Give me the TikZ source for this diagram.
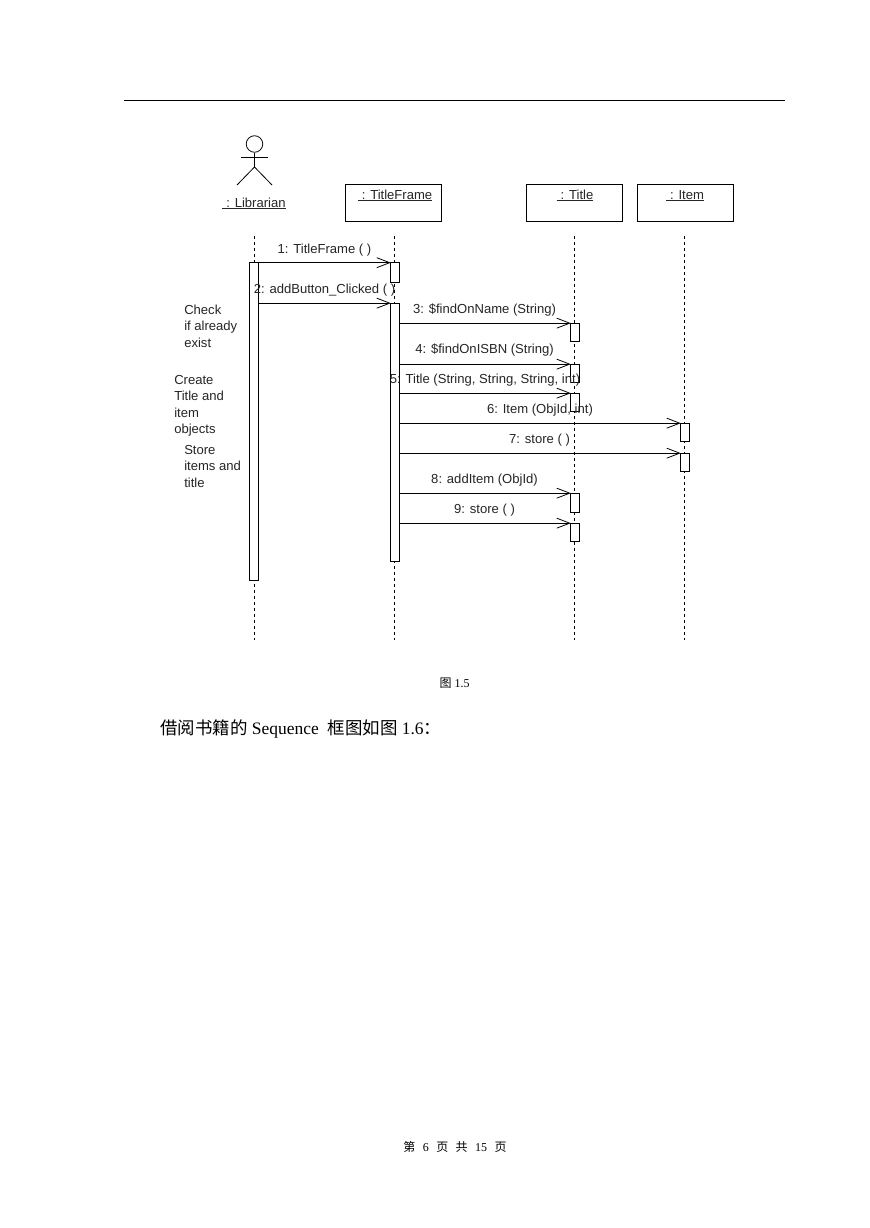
\documentclass[tikz,border=0pt]{standalone}
\usepackage{fontspec}
\setmainfont{Liberation Serif}
\newfontfamily\labelfont{Liberation Sans}
\newfontfamily\cjk{Noto Sans CJK SC}
\usetikzlibrary{arrows.meta}
\tikzset{
  lbl/.style={font=\labelfont\fontsize{9.8pt}{12.4pt}\selectfont,inner sep=0pt,text=black!85},
  msglabel/.style={lbl,anchor=base},
  note/.style={lbl,anchor=north west,align=left},
  objbox/.style={draw,line width=0.75pt,fill=white,minimum width=72pt,minimum height=27.75pt,inner sep=0pt},
  bar/.style={draw,line width=0.75pt,fill=white,minimum width=6.75pt,inner sep=0pt},
  lifeline/.style={line width=0.75pt,dash pattern=on 2.25pt off 2.25pt},
  msg/.style={line width=0.75pt,shorten >=-1pt,-{Straight Barb[length=9.75pt,width=7.5pt,line width=0.6pt]}},
  stick/.style={line width=0.6pt},
  uname/.style={lbl,anchor=base}
}
\newsavebox{\ulbox}
\newcommand{\ul}[1]{\sbox{\ulbox}{\hspace{3pt}: #1}\rlap{\usebox{\ulbox}}\rule[-1.2pt]{\wd\ulbox}{0.6pt}}
\begin{document}
\begin{tikzpicture}[x=0.75pt,y=-0.75pt]
\useasboundingbox (0,0) rectangle (869,1228);
\fill[white] (0,0) rectangle (869,1228);
% page rule
\coordinate (ruleL) at (124,100);
\coordinate (ruleR) at (785,100);
\draw[line width=0.75pt] (ruleL) -- (ruleR);
% lifelines
\coordinate (l1t) at (254.5,236); \coordinate (l1b) at (254.5,640);
\coordinate (l2t) at (394.5,236); \coordinate (l2b) at (394.5,640);
\coordinate (l3t) at (574.5,236); \coordinate (l3b) at (574.5,640);
\coordinate (l4t) at (684.5,236); \coordinate (l4b) at (684.5,640);
\draw[lifeline] (l1t) -- (l1b);
\draw[lifeline] (l2t) -- (l2b);
\draw[lifeline] (l3t) -- (l3b);
\draw[lifeline] (l4t) -- (l4b);
% actor
\node[draw,stick,circle,minimum size=12.4pt,inner sep=0pt] (head) at (254.5,144) {};
\coordinate (armL) at (241,157); \coordinate (armR) at (268,157);
\coordinate (hip) at (254.5,167);
\coordinate (legL) at (237,185); \coordinate (legR) at (272,185);
\draw[stick] (head.south) -- (hip);
\draw[stick] (armL) -- (armR);
\draw[stick] (legL) -- (hip) -- (legR);
\node[uname] (libname) at (254,207) {\ul{Librarian}};
% object boxes
\node[objbox] (tfbox) at (393.5,202.5) {};
\node[objbox] (tibox) at (574.5,202.5) {};
\node[objbox] (itbox) at (685.5,202.5) {};
\node[uname] (tfname) at (395,199) {\ul{TitleFrame}};
\node[uname] (tiname) at (575,199) {\ul{Title}};
\node[uname] (itname) at (685,199) {\ul{Item}};
% activation bars
\node[bar,minimum height=238.5pt] (lib1) at (254,421) {};
\node[bar,minimum height=15pt] (tf1) at (394.5,272.5) {};
\node[bar,minimum height=193.5pt] (tf2) at (394.5,432) {};
\node[bar,minimum height=13.5pt] (t1) at (574.5,332) {};
\node[bar,minimum height=13.5pt] (t2) at (574.5,373) {};
\node[bar,minimum height=13.5pt] (t3) at (574.5,402) {};
\node[bar,minimum height=14.25pt] (t4) at (574.5,502.5) {};
\node[bar,minimum height=13.5pt] (t5) at (574.5,532) {};
\node[bar,minimum height=13.5pt] (i1) at (684.5,432) {};
\node[bar,minimum height=13.5pt] (i2) at (684.5,462) {};
% messages
\draw[msg] ([yshift=-0.5pt]lib1.east |- tf1.north) -- ([yshift=-0.5pt]tf1.north west);
\draw[msg] ([yshift=-0.5pt]lib1.east |- tf2.north) -- ([yshift=-0.5pt]tf2.north west);
\draw[msg] ([yshift=-0.5pt]tf2.east |- t1.north) -- ([yshift=-0.5pt]t1.north west);
\draw[msg] ([yshift=-0.5pt]tf2.east |- t2.north) -- ([yshift=-0.5pt]t2.north west);
\draw[msg] ([yshift=-0.5pt]tf2.east |- t3.north) -- ([yshift=-0.5pt]t3.north west);
\draw[msg] ([yshift=-0.5pt]tf2.east |- i1.north) -- ([yshift=-0.5pt]i1.north west);
\draw[msg] ([yshift=-0.5pt]tf2.east |- i2.north) -- ([yshift=-0.5pt]i2.north west);
\draw[msg] ([yshift=-0.5pt]tf2.east |- t4.north) -- ([yshift=-0.5pt]t4.north west);
\draw[msg] ([yshift=-0.5pt]tf2.east |- t5.north) -- ([yshift=-0.5pt]t5.north west);
% message labels
\node[msglabel] (m1) at (324.5,253) {1: TitleFrame ( )};
\node[msglabel] (m2) at (324.5,293) {2: addButton\_Clicked ( )};
\node[msglabel] (m3) at (484.5,313) {3: \$findOnName (String)};
\node[msglabel] (m4) at (484.5,353) {4: \$findOnISBN (String)};
\node[msglabel] (m5) at (485,383) {5: Title (String, String, String, int)};
\node[msglabel] (m6) at (540,413) {6: Item (ObjId, int)};
\node[msglabel] (m7) at (539.5,443) {7: store ( )};
\node[msglabel] (m8) at (484.5,483) {8: addItem (ObjId)};
\node[msglabel] (m9) at (484.5,513) {9: store ( )};
% notes
\node[note] (n1) at (184,304.5) {Check\\if already\\exist};
\node[note] (n2) at (174,375) {Create\\Title and\\item\\objects};
\node[note] (n3) at (184,445) {Store\\items and\\title};
% page text
\node[inner sep=0pt,font=\fontsize{9pt}{11pt}\selectfont] (cap) at (454.5,683.5) {{\cjk 图} 1.5};
\node[inner sep=0pt,anchor=west,font=\fontsize{13.1pt}{15pt}\selectfont] (para) at (160,729) {{\cjk 借阅书籍的} Sequence\ \ {\cjk 框图如图} 1.6{\cjk ：}};
\node[inner sep=0pt,font=\fontsize{9pt}{11pt}\selectfont] (foot) at (455,1147) {{\cjk 第}\hspace{5.6pt}6\hspace{5.6pt}{\cjk 页}\hspace{5.6pt}{\cjk 共}\hspace{5.6pt}15\hspace{5.6pt}{\cjk 页}};
\end{tikzpicture}
\end{document}
